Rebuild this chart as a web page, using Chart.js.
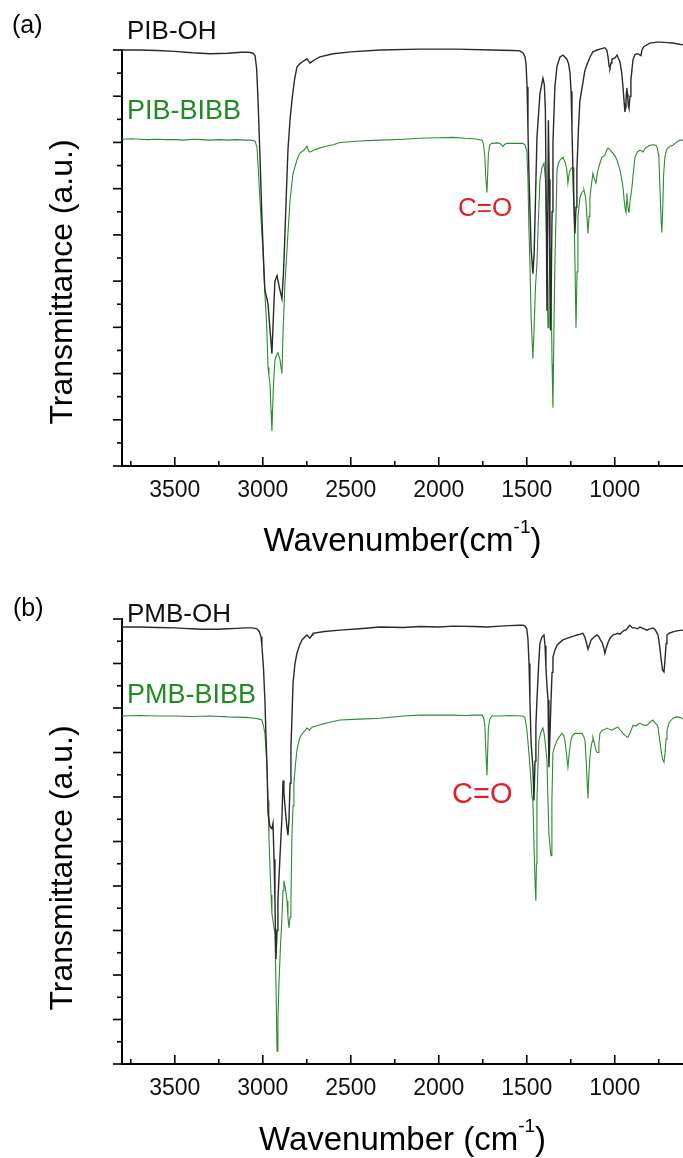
<!DOCTYPE html>
<html><head><meta charset="utf-8">
<script src="https://cdn.jsdelivr.net/npm/chart.js@4.4.1/dist/chart.umd.min.js"></script>
<style>
html,body{margin:0;padding:0;background:#fff;}
#wrap{position:relative;width:683px;height:1158px;overflow:hidden;background:#fff;}
canvas{position:absolute;left:0;}
</style></head><body>
<div id="wrap">
<canvas id="ca" width="683" height="580" style="top:0px"></canvas>
<canvas id="cb" width="683" height="578" style="top:580px"></canvas>
</div>
<script>
// ---------- DATA ----------
const xTickLabels = [3500, 3000, 2500, 2000, 1500, 1000];
const xMin = 612, xMax = 3800;

// Panel (a) PIB-OH
const wnPIBOH = [3800,3700,3600,3500,3400,3300,3200,3120,3080,3056,3044,3035,3027,3015,3005,2995,2988,2978,2970,2960,2948,2940,2931,2919,2905,2891,2882,2874,2865,2857,2845,2834,2820,2806,2790,2777,2760,2749,2740,2732,2700,2675,2600,2500,2334,2107,1900,1700,1580,1539,1520,1510,1504,1498,1493,1488,1482,1475,1465,1458,1452,1442,1425,1408,1400,1394,1389,1385,1381,1377,1372,1368,1365,1361,1356,1351,1340,1328,1311,1294,1272,1262,1254,1248,1243,1235,1226,1220,1215,1206,1198,1181,1170,1158,1140,1124,1100,1084,1056,1045,1038,1032,1027,1021,1016,999,987,977,970,960,953,946,942,939,936,933,931,928,925,922,919,913,908,900,896,885,874,860,851,845,835,800,760,743,700,669,640,612];
const tPIBOH = [9.00,9.00,8.99,8.97,8.94,8.92,8.93,8.95,8.95,8.93,8.88,8.60,7.92,6.60,5.38,4.40,3.80,3.65,3.50,3.00,2.43,3.20,4.00,4.12,3.85,3.62,4.20,5.03,6.00,6.83,7.50,7.92,8.35,8.63,8.70,8.74,8.78,8.81,8.76,8.72,8.80,8.85,8.92,8.96,9.00,9.02,9.02,9.00,8.99,8.98,8.93,8.85,8.70,8.20,7.27,6.40,5.60,4.70,4.16,4.60,5.50,7.10,8.05,8.39,8.25,7.70,5.50,3.36,5.00,7.48,6.20,4.20,2.93,3.80,5.50,7.00,8.20,8.65,8.85,8.89,8.80,8.70,8.50,8.10,7.30,6.00,5.03,5.60,6.40,7.30,7.90,8.29,8.55,8.68,8.85,8.96,9.00,9.02,9.05,9.00,8.85,8.65,8.61,8.72,8.80,8.83,8.89,8.80,8.74,8.50,8.20,7.85,7.66,7.75,7.90,8.10,8.18,8.05,7.90,7.78,7.74,8.00,8.35,8.65,8.79,8.90,8.92,8.90,8.88,9.00,9.07,9.15,9.17,9.17,9.16,9.15,9.13,9.11];

// Panel (a) PIB-BIBB
const wnPIBBIBB = [3800,3750,3700,3650,3600,3550,3500,3450,3400,3350,3300,3250,3200,3150,3100,3070,3044,3033,3025,3016,3005,2999,2994,2988,2980,2976,2970,2965,2959,2953,2948,2940,2931,2922,2914,2902,2895,2891,2885,2874,2865,2857,2845,2828,2806,2789,2770,2760,2749,2740,2732,2700,2658,2600,2561,2450,2334,2200,2107,2000,1919,1850,1800,1754,1745,1738,1732,1726,1722,1718,1710,1698,1665,1650,1640,1635,1625,1612,1560,1522,1510,1499,1493,1488,1482,1475,1465,1458,1450,1442,1435,1425,1414,1402,1394,1388,1382,1379,1374,1368,1362,1356,1351,1346,1340,1333,1328,1320,1311,1294,1280,1272,1266,1260,1254,1245,1237,1232,1226,1220,1214,1209,1198,1186,1180,1175,1165,1158,1152,1146,1141,1132,1124,1115,1107,1100,1095,1084,1073,1056,1047,1039,1028,1016,1000,987,978,970,960,953,945,940,936,933,931,927,922,919,912,902,893,885,870,857,848,840,825,800,780,765,758,752,749,742,736,732,727,722,715,707,698,685,669,650,629,612];
const tPIBBIBB = [7.07,7.08,7.07,7.06,7.07,7.06,7.06,7.05,7.07,7.06,7.05,7.06,7.05,7.06,7.05,7.05,7.03,6.90,6.40,5.75,5.03,4.66,4.20,3.73,3.20,2.86,2.13,1.95,1.78,1.20,0.76,1.70,2.28,2.40,2.45,2.30,2.10,2.00,2.86,3.95,4.50,5.03,5.75,6.33,6.62,6.77,6.82,6.86,6.92,6.82,6.79,6.85,6.90,6.95,7.00,7.03,7.05,7.07,7.09,7.10,7.11,7.09,7.08,7.05,6.95,6.68,6.20,5.92,6.30,6.75,6.95,6.98,6.99,6.97,6.93,6.92,6.96,6.98,6.98,6.98,6.95,6.80,6.20,5.20,4.40,3.20,2.32,3.00,3.90,4.38,5.20,6.18,6.45,6.55,6.20,5.10,3.50,2.99,3.80,4.73,4.00,2.20,1.26,2.80,4.38,5.50,6.40,6.55,6.62,6.68,6.55,6.40,6.12,6.30,6.40,6.45,6.46,5.80,4.40,2.99,4.20,5.38,5.80,5.92,5.95,5.97,5.80,5.40,5.03,5.40,5.81,6.10,6.33,6.20,6.12,6.30,6.40,6.55,6.68,6.72,6.82,6.88,6.85,6.79,6.72,6.62,6.50,6.40,6.20,6.03,5.70,5.55,5.49,5.70,5.90,5.70,5.50,5.49,5.75,6.03,6.40,6.68,6.80,6.83,6.82,6.79,6.88,6.94,6.95,6.94,6.88,6.75,6.68,5.90,5.30,5.05,5.60,6.30,6.68,6.82,6.88,6.92,6.94,7.00,7.05,7.05];

// Panel (b) PMB-OH
const wnPMBOH = [3800,3700,3600,3500,3450,3400,3350,3300,3250,3200,3150,3100,3060,3033,3020,3010,3005,2996,2988,2982,2976,2970,2960,2952,2948,2942,2936,2931,2925,2919,2914,2903,2891,2885,2880,2874,2868,2862,2857,2851,2845,2840,2834,2828,2817,2806,2790,2777,2760,2749,2740,2732,2720,2715,2650,2561,2450,2334,2200,2107,2000,1919,1800,1726,1650,1600,1539,1522,1510,1500,1493,1487,1482,1475,1465,1459,1453,1448,1442,1432,1425,1413,1402,1396,1391,1385,1379,1374,1368,1362,1356,1351,1340,1328,1310,1294,1260,1230,1215,1195,1181,1170,1160,1152,1145,1135,1129,1115,1101,1090,1080,1073,1062,1056,1048,1039,1025,1010,995,982,970,953,935,914,900,885,870,857,840,817,800,783,770,762,754,745,735,728,720,714,708,703,690,669,640,612];
const tPMBOH = [9.82,9.82,9.81,9.80,9.79,9.78,9.77,9.77,9.77,9.78,9.79,9.80,9.80,9.78,9.72,9.60,9.40,8.90,8.18,7.40,6.67,5.63,5.35,5.30,5.29,5.41,4.60,3.67,2.36,3.00,3.67,4.60,5.54,6.37,6.10,5.80,5.54,5.30,5.14,5.50,6.31,7.10,7.81,8.56,9.00,9.23,9.42,9.53,9.60,9.64,9.60,9.57,9.64,9.68,9.72,9.75,9.78,9.82,9.81,9.83,9.82,9.84,9.83,9.82,9.84,9.85,9.86,9.86,9.84,9.78,9.55,9.00,8.18,7.20,6.67,5.92,6.80,7.60,8.18,9.00,9.46,9.60,9.64,9.40,8.92,8.50,8.18,6.67,7.40,8.18,8.80,9.14,9.30,9.41,9.48,9.53,9.58,9.62,9.64,9.66,9.68,9.60,9.45,9.32,9.40,9.52,9.55,9.60,9.64,9.60,9.52,9.48,9.35,9.23,9.35,9.46,9.58,9.64,9.66,9.68,9.66,9.73,9.76,9.86,9.80,9.80,9.78,9.82,9.79,9.75,9.78,9.80,9.76,9.70,9.64,9.40,9.05,8.85,8.81,9.10,9.45,9.64,9.68,9.71,9.74,9.75];

// Panel (b) PMB-BIBB
const wnPMBBIBB = [3800,3700,3600,3500,3400,3300,3200,3100,3044,3020,3005,2996,2988,2982,2976,2970,2965,2959,2953,2948,2942,2936,2931,2925,2919,2914,2908,2900,2891,2885,2880,2874,2868,2862,2857,2851,2845,2840,2834,2828,2823,2815,2806,2795,2789,2770,2749,2738,2735,2720,2650,2561,2450,2334,2200,2107,2000,1919,1850,1800,1754,1745,1738,1732,1726,1722,1718,1710,1698,1650,1600,1522,1510,1499,1490,1482,1470,1465,1458,1452,1448,1445,1442,1436,1431,1420,1408,1400,1392,1385,1380,1374,1368,1362,1357,1351,1340,1328,1315,1300,1290,1283,1275,1266,1258,1249,1240,1226,1200,1186,1175,1169,1162,1156,1152,1147,1141,1135,1128,1124,1115,1107,1100,1095,1090,1084,1070,1056,1044,1030,1016,1000,982,968,953,940,925,912,896,880,857,840,817,800,783,770,760,754,745,735,728,720,714,708,703,690,669,650,629,612];
const tPMBBIBB = [7.82,7.83,7.82,7.82,7.81,7.82,7.80,7.79,7.77,7.75,7.73,7.60,7.43,7.10,6.67,5.92,5.10,4.41,3.80,3.38,3.22,3.05,2.93,1.80,0.29,1.00,1.80,2.60,3.29,3.90,4.12,4.00,3.85,3.67,3.30,3.06,3.30,3.67,5.18,5.80,6.31,6.70,7.05,7.25,7.34,7.45,7.55,7.52,7.50,7.57,7.65,7.73,7.75,7.77,7.82,7.84,7.84,7.84,7.83,7.84,7.84,7.78,7.61,7.00,6.49,7.00,7.55,7.75,7.82,7.82,7.83,7.82,7.78,7.50,7.10,6.70,6.00,5.92,4.80,4.00,3.67,4.50,5.92,6.70,7.27,7.45,7.55,7.40,7.10,6.82,6.00,5.18,4.90,4.68,5.92,7.00,7.15,7.27,7.35,7.43,7.38,7.27,7.00,6.67,7.00,7.27,7.38,7.43,7.43,7.43,7.35,7.27,6.80,6.30,5.97,6.50,6.90,7.11,7.25,7.34,7.20,7.05,7.00,7.00,7.20,7.43,7.50,7.52,7.55,7.52,7.50,7.54,7.57,7.50,7.43,7.38,7.34,7.45,7.61,7.60,7.66,7.62,7.61,7.68,7.73,7.66,7.62,7.57,7.30,7.00,6.85,6.78,7.00,7.30,7.50,7.68,7.77,7.80,7.79,7.75];

// ---------- RENDERING ----------
const FONT = '"Liberation Sans", Arial, Helvetica, sans-serif';
const zip = (wn, t) => wn.map((w, i) => ({x: w, y: t[i]}));

const axisDecor = {
  id: 'axisDecor',
  afterDraw(chart, args, opts) {
    const ctx = chart.ctx, xs = chart.scales.x, ys = chart.scales.y, ca = chart.chartArea;
    ctx.save();
    ctx.strokeStyle = '#000';
    ctx.lineWidth = 1.6;
    for (let v = Math.ceil(xs.min / 250) * 250; v <= xs.max; v += 250) {
      const px = xs.getPixelForValue(v);
      const len = (v % 500 === 0) ? 9 : 5;
      ctx.beginPath(); ctx.moveTo(px, ca.bottom); ctx.lineTo(px, ca.bottom - len); ctx.stroke();
    }
    for (let k = 0; k <= Math.round((ys.max - ys.min) * 2); k++) {
      const v = ys.min + k * 0.5;
      const py = ys.getPixelForValue(v);
      const len = (k % 2 === 0) ? 9 : 5;
      ctx.beginPath(); ctx.moveTo(ca.left - len, py); ctx.lineTo(ca.left, py); ctx.stroke();
    }
    ctx.fillStyle = '#111';
    ctx.font = `${opts.tickSize}px ${FONT}`;
    ctx.textAlign = 'center';
    ctx.textBaseline = 'alphabetic';
    xTickLabels.forEach(v => {
      ctx.fillText(String(v), xs.getPixelForValue(v), ca.bottom + opts.tickOffset);
    });
    ctx.restore();
  }
};

const annotations = {
  id: 'annotations',
  afterDraw(chart, args, opts) {
    const ctx = chart.ctx;
    (opts.items || []).forEach(it => {
      ctx.save();
      ctx.font = `${it.size}px ${FONT}`;
      ctx.fillStyle = it.color || '#000';
      ctx.textAlign = it.align || 'left';
      ctx.textBaseline = it.baseline || 'alphabetic';
      ctx.translate(it.x, it.y);
      if (it.rot) ctx.rotate(it.rot);
      ctx.fillText(it.text, 0, 0);
      ctx.restore();
    });
    const t = opts.xTitle;
    if (t) {
      ctx.save();
      ctx.fillStyle = '#000';
      ctx.textBaseline = 'alphabetic';
      ctx.font = `${t.size}px ${FONT}`;
      const w1 = ctx.measureText(t.main).width;
      const w3 = ctx.measureText(')').width;
      ctx.font = `${t.supSize}px ${FONT}`;
      const w2 = ctx.measureText(t.sup).width;
      const cx = (chart.chartArea.left + chart.chartArea.right) / 2;
      let x = cx - (w1 + w2 + w3) / 2;
      ctx.font = `${t.size}px ${FONT}`;
      ctx.fillText(t.main, x, t.y); x += w1;
      ctx.font = `${t.supSize}px ${FONT}`;
      ctx.fillText(t.sup, x, t.y - t.raise); x += w2;
      ctx.font = `${t.size}px ${FONT}`;
      ctx.fillText(')', x, t.y);
      ctx.restore();
    }
  }
};

function makeChart(canvasId, blackLabel, blackData, greenLabel, greenData, yMax, areaTop, areaBottom, canvasH, items, xTitle) {
  return new Chart(document.getElementById(canvasId), {
    type: 'line',
    data: {
      datasets: [
        {label: blackLabel, data: blackData, borderColor: '#2a2a2a', borderWidth: 1.4, pointRadius: 0, tension: 0, clip: false},
        {label: greenLabel, data: greenData, borderColor: '#2e8b2e', borderWidth: 1.1, pointRadius: 0, tension: 0, clip: false}
      ]
    },
    options: {
      responsive: false,
      animation: false,
      devicePixelRatio: 1,
      layout: {padding: {left: 0, right: 0, top: areaTop, bottom: 0}},
      plugins: {
        legend: {display: false},
        tooltip: {enabled: false},
        axisDecor: {tickSize: 23, tickOffset: 31},
        annotations: {items: items, xTitle: xTitle}
      },
      scales: {
        x: {
          type: 'linear', reverse: true, min: xMin, max: xMax,
          grid: {display: false, drawTicks: false},
          border: {display: true, color: '#000', width: 2},
          ticks: {display: false, stepSize: 500},
          afterFit: s => { s.height = canvasH - areaBottom; }
        },
        y: {
          type: 'linear', min: 0, max: yMax,
          grid: {display: false, drawTicks: false},
          border: {display: true, color: '#000', width: 2},
          ticks: {display: false},
          afterFit: s => { s.width = 122; }
        }
      }
    },
    plugins: [axisDecor, annotations]
  });
}

makeChart('ca', 'PIB-OH', zip(wnPIBOH, tPIBOH), 'PIB-BIBB', zip(wnPIBBIBB, tPIBBIBB), 9, 50, 466, 580, [
  {text: '(a)', x: 12, y: 33, size: 25},
  {text: 'PIB-OH', x: 127, y: 39, size: 26, color: '#111'},
  {text: 'PIB-BIBB', x: 127, y: 119, size: 27, color: '#1e8c1e'},
  {text: 'C=O', x: 458, y: 216, size: 26, color: '#e31e24'},
  {text: 'Transmittance (a.u.)', x: 63, y: 282, size: 32, rot: -Math.PI / 2, align: 'center', baseline: 'middle'}
], {main: 'Wavenumber(cm', sup: '-1', size: 33, supSize: 19, raise: 18, y: 551});

makeChart('cb', 'PMB-OH', zip(wnPMBOH, tPMBOH), 'PMB-BIBB', zip(wnPMBBIBB, tPMBBIBB), 10, 39, 484, 578, [
  {text: '(b)', x: 13, y: 36, size: 25},
  {text: 'PMB-OH', x: 127, y: 42, size: 26, color: '#111'},
  {text: 'PMB-BIBB', x: 127, y: 123, size: 27, color: '#1e8c1e'},
  {text: 'C=O', x: 452, y: 223, size: 29, color: '#e31e24'},
  {text: 'Transmittance (a.u.)', x: 63, y: 288, size: 32, rot: -Math.PI / 2, align: 'center', baseline: 'middle'}
], {main: 'Wavenumber (cm', sup: '-1', size: 33, supSize: 19, raise: 18, y: 570});
</script>
</body></html>
